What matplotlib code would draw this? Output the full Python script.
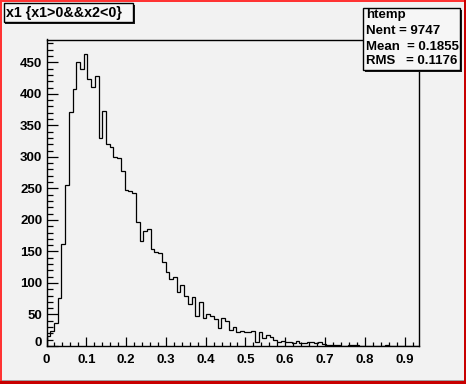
import numpy as np
import matplotlib
matplotlib.use("Agg")
import matplotlib.pyplot as plt
from matplotlib.patches import Rectangle
from matplotlib.ticker import MultipleLocator, FixedLocator
import matplotlib.transforms as mtransforms

# ---- data ----
x_min, x_max = 0.0, 0.935
counts = [
    16, 23, 37, 76, 161, 256, 371, 407, 450, 439,
    463, 423, 411, 428, 330, 373, 320, 316, 300, 298,
    277, 248, 246, 242, 196, 166, 182, 185, 154, 149,
    147, 134, 117, 107, 110, 86, 96, 80, 66, 77,
    47, 69, 45, 50, 48, 43, 28, 44, 40, 25,
    30, 22, 23, 22, 22, 24, 6, 22, 12, 18,
    15, 10, 7, 8, 7, 7, 5, 8, 5, 4,
    6, 7, 4, 7, 3, 2, 1, 1, 1, 0,
    0, 1, 1, 1, 0, 0, 0, 0, 0, 0,
    0, 1, 0, 0, 0, 0, 0, 0, 0, 0,
]
x_ticks = [0.0, 0.1, 0.2, 0.3, 0.4, 0.5, 0.6, 0.7, 0.8, 0.9]
x_tick_labels = ["0", "0.1", "0.2", "0.3", "0.4", "0.5", "0.6", "0.7", "0.8", "0.9"]
y_ticks = [0, 50, 100, 150, 200, 250, 300, 350, 400, 450]
title_text = "x1 {x1>0&&x2<0}"
stats_lines = ["htemp", "Nent = 9747", "Mean  = 0.1855", "RMS   = 0.1176"]

W, H = 466, 384
BG = "#f2f2f2"
plt.rcParams['font.family'] = ['Liberation Sans', 'DejaVu Sans']

fig = plt.figure(figsize=(W / 100, H / 100), dpi=100, facecolor=BG)

def px_rect(x, y, w, h, **kw):
    r = Rectangle((x / W, 1 - (y + h) / H), w / W, h / H,
                  transform=fig.transFigure, **kw)
    fig.add_artist(r)
    return r

ax = fig.add_axes([46.5 / W, 1 - 346 / H, (418.5 - 46.5) / W, (346 - 39.5) / H])
ax.set_facecolor(BG)

edges = np.linspace(x_min, x_max, len(counts) + 1)
ax.stairs(counts, edges, color="black", linewidth=0.9, baseline=0)

ymax = max(counts) * 1.05
ax.set_xlim(x_min, x_max)
ax.set_ylim(0, ymax)

ax.xaxis.set_major_locator(FixedLocator(x_ticks))
ax.set_xticklabels(x_tick_labels)
ax.xaxis.set_minor_locator(MultipleLocator(0.02))
ax.yaxis.set_major_locator(FixedLocator(y_ticks))
ax.set_yticklabels([str(v) for v in y_ticks])
ax.yaxis.set_minor_locator(MultipleLocator(10))

ax.tick_params(axis="x", which="major", direction="in", length=6.5, width=0.9,
               pad=5.5, labelsize=9.5, top=False)
ax.tick_params(axis="x", which="minor", direction="in", length=3.2, width=0.9, top=False)
ax.tick_params(axis="y", which="major", direction="in", length=8, width=0.9,
               pad=3, labelsize=9.5, right=False)
ax.tick_params(axis="y", which="minor", direction="in", length=4, width=0.9, right=False)
for lab in ax.get_xticklabels() + ax.get_yticklabels():
    lab.set_fontweight("bold")
for sp in ax.spines.values():
    sp.set_linewidth(1.0)
    sp.set_color("black")

# ROOT shifts the y "0" label up a little
ylab0 = ax.get_yticklabels()[0]
ylab0.set_transform(ylab0.get_transform() + mtransforms.ScaledTranslation(0, 5 / 100, fig.dpi_scale_trans))

# ---- title box ----
px_rect(5, 5, 130, 18.5, facecolor="#1a1a1a", edgecolor="none", zorder=5)   # shadow
px_rect(3.5, 3, 129.5, 18.5, facecolor="#f6f6f6", edgecolor="black", linewidth=1, zorder=6)
fig.text(5.5 / W, 1 - 12.5 / H, title_text, ha="left", va="center",
         fontsize=10.3, fontweight="bold", zorder=7)

# ---- stats box ----
px_rect(364.5, 10, 97, 61.5, facecolor="#1a1a1a", edgecolor="none", zorder=5)
sbox = px_rect(362.5, 8, 97, 61.5, facecolor="#f6f6f6", edgecolor="black", linewidth=1, zorder=6)
ys = [15.3, 31.3, 46.7, 61.3]
for s, yy in zip(stats_lines, ys):
    t = fig.text(366 / W, 1 - yy / H, s, ha="left", va="center",
                 fontsize=9.5, fontweight="bold", zorder=7)
    t.set_clip_path(sbox)

# ---- canvas border (ROOT selected pad) ----
px_rect(0, 0, W, 2, facecolor="#ff3333", edgecolor="none", zorder=10)
px_rect(0, 0, 2, H, facecolor="#ff3333", edgecolor="none", zorder=10)
px_rect(0, H - 3, W, 3, facecolor="#c80000", edgecolor="none", zorder=10)
px_rect(W - 2.5, 0, 2.5, H, facecolor="#c80000", edgecolor="none", zorder=10)
px_rect(2, H - 4, W - 4.5, 1, facecolor="#a0a0a0", edgecolor="none", zorder=9)

fig.savefig("out.png", dpi=100, facecolor=BG)
